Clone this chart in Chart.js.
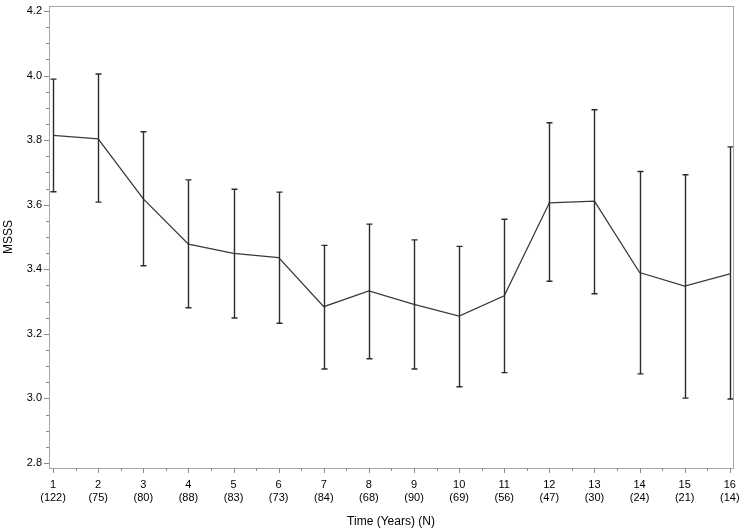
<!DOCTYPE html>
<html>
<head>
<meta charset="utf-8">
<script src="https://cdn.jsdelivr.net/npm/chart.js@4.4.1/dist/chart.umd.min.js"></script>
<style>
  html, body { margin: 0; padding: 0; background: #ffffff; }
  #wrap { width: 742px; height: 532px; }
</style>
</head>
<body>
<div id="wrap"><canvas id="chart" width="742" height="532"></canvas></div>
<script>
// time points, number of subjects, mean MSSS and its interval
const years = [1, 2, 3, 4, 5, 6, 7, 8, 9, 10, 11, 12, 13, 14, 15, 16];
const counts = [122, 75, 80, 88, 83, 73, 84, 68, 90, 69, 56, 47, 30, 24, 21, 14];
const means = [3.815, 3.804, 3.618, 3.478, 3.449, 3.436, 3.284, 3.333, 3.291, 3.255, 3.318, 3.606, 3.611, 3.390, 3.348, 3.386];
const lower = [3.640, 3.608, 3.411, 3.281, 3.249, 3.233, 3.091, 3.123, 3.091, 3.036, 3.080, 3.363, 3.324, 3.076, 3.001, 2.998];
const upper = [3.989, 4.005, 3.826, 3.677, 3.648, 3.639, 3.474, 3.540, 3.491, 3.471, 3.555, 3.854, 3.894, 3.703, 3.693, 3.779];
const yMajor = [2.8, 3.0, 3.2, 3.4, 3.6, 3.8, 4.0, 4.2];

const yTicks = [];
for (let i = 0; i <= 28; i++) yTicks.push(+(2.8 + i * 0.05).toFixed(2));
const xTicks = [];
for (let i = 0; i <= 30; i++) xTicks.push(1 + i * 0.5);

const isMajorY = v => yMajor.some(m => Math.abs(m - v) < 1e-6);

// error bars, frame and tick marks
const extras = {
    id: 'extras',
    afterDatasetsDraw(chart) {
        const { ctx, scales: { x, y } } = chart;
        ctx.save();
        ctx.strokeStyle = '#2b2b2b';
        ctx.lineWidth = 1.4;
        years.forEach((t, i) => {
            const px = Math.round(x.getPixelForValue(t)) + 0.5;
            const py1 = y.getPixelForValue(upper[i]);
            const py2 = y.getPixelForValue(lower[i]);
            ctx.beginPath();
            ctx.moveTo(px, py1); ctx.lineTo(px, py2);
            ctx.moveTo(px - 3, py1); ctx.lineTo(px + 3, py1);
            ctx.moveTo(px - 3, py2); ctx.lineTo(px + 3, py2);
            ctx.stroke();
        });
        ctx.restore();
    },
    afterDraw(chart) {
        const { ctx, chartArea: a, scales: { x, y } } = chart;
        ctx.save();
        ctx.strokeStyle = '#a6a6a6';
        ctx.lineWidth = 1;
        ctx.strokeRect(a.left + 0.5, a.top + 0.5, a.right - a.left, a.bottom - a.top);
        ctx.strokeStyle = '#8a8a8a';
        ctx.beginPath();
        yTicks.forEach(v => {
            const py = Math.round(y.getPixelForValue(v)) + 0.5;
            const len = isMajorY(v) ? 5 : 3;
            ctx.moveTo(a.left, py); ctx.lineTo(a.left - len, py);
        });
        xTicks.forEach(v => {
            const px = Math.round(x.getPixelForValue(v)) + 0.5;
            const len = Number.isInteger(v) ? 5 : 3;
            ctx.moveTo(px, a.bottom); ctx.lineTo(px, a.bottom + len);
        });
        ctx.stroke();
        ctx.restore();
    }
};

const tickFont = { family: "'Liberation Sans', Arial, sans-serif", size: 11 };
const titleFont = { family: "'Liberation Sans', Arial, sans-serif", size: 12 };

new Chart(document.getElementById('chart'), {
    type: 'line',
    data: {
        datasets: [{
            data: years.map((t, i) => ({ x: t, y: means[i] })),
            borderColor: '#3a3a3a',
            borderWidth: 1.3,
            pointRadius: 0,
            tension: 0,
            fill: false
        }]
    },
    options: {
        responsive: false,
        animation: false,
        layout: { padding: { top: 6, right: 9, left: 0, bottom: 0 } },
        plugins: { legend: { display: false }, tooltip: { enabled: false } },
        scales: {
            x: {
                type: 'linear',
                min: 0.91,
                max: 16.07,
                afterBuildTicks: axis => { axis.ticks = years.map(v => ({ value: v })); },
                afterFit: axis => {
                    axis.height = 64;
                    axis.paddingLeft = 0;
                    axis.paddingRight = 0;
                },
                grid: { display: false, drawTicks: false },
                border: { display: false },
                ticks: {
                    autoSkip: false,
                    maxRotation: 0,
                    padding: 10,
                    color: '#000',
                    font: tickFont,
                    callback: v => {
                        const i = years.indexOf(v);
                        return i < 0 ? '' : [String(years[i]), '(' + counts[i] + ')'];
                    }
                },
                title: {
                    display: true,
                    text: 'Time (Years) (N)',
                    color: '#000',
                    font: titleFont,
                    padding: { top: 4, bottom: 3 }
                }
            },
            y: {
                type: 'linear',
                min: 2.7845,
                max: 4.2155,
                afterBuildTicks: axis => { axis.ticks = yTicks.map(v => ({ value: v })); },
                afterFit: axis => {
                    axis.width = 49;
                    axis.paddingTop = 0;
                    axis.paddingBottom = 0;
                },
                grid: { display: false, drawTicks: false },
                border: { display: false },
                ticks: {
                    autoSkip: false,
                    padding: 7,
                    color: '#000',
                    font: tickFont,
                    callback: v => isMajorY(v) ? v.toFixed(1) : ''
                },
                title: {
                    display: true,
                    text: 'MSSS',
                    color: '#000',
                    font: titleFont,
                    padding: { top: 1, bottom: 4 }
                }
            }
        }
    },
    plugins: [extras]
});
</script>
</body>
</html>
